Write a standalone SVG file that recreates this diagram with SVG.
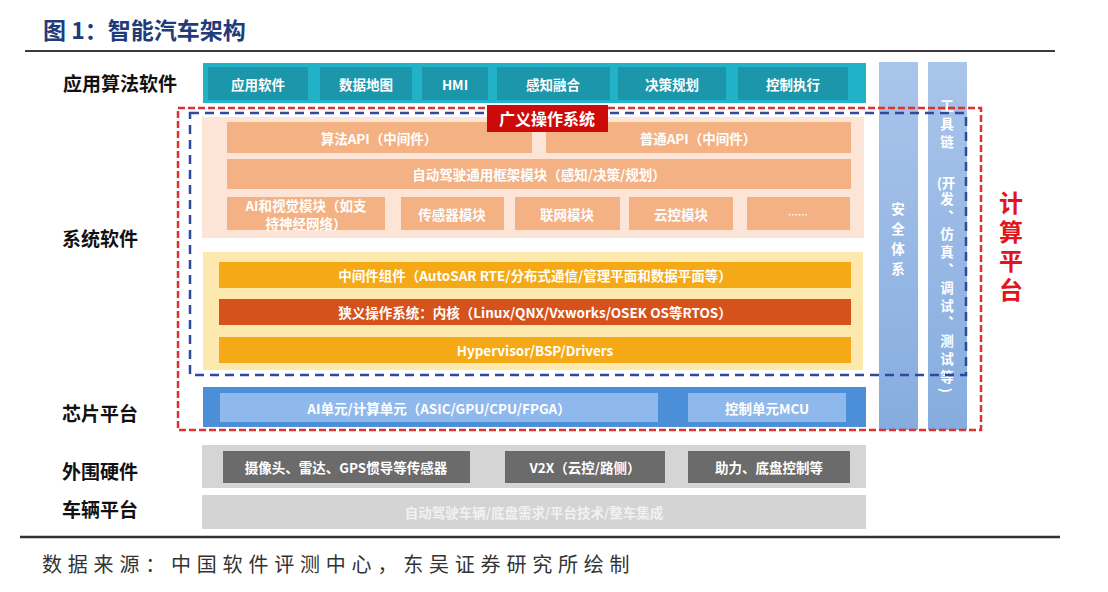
<svg xmlns="http://www.w3.org/2000/svg" width="1108" height="592" viewBox="0 0 1108 592">
<defs>
<style>
text{font-family:"Noto Sans CJK SC","Liberation Sans",sans-serif;dominant-baseline:central;text-anchor:middle}
.lbl{font-size:19px;font-weight:700;fill:#111}
.w{font-size:13.5px;font-weight:700;fill:#fff}
.app{fill:#1c96aa}
.pch{fill:#f4b184}
.yel{fill:#f5a916}
.chipin{fill:#8fb8ec}
.gin{fill:#6b6b6b}
.vt{font-size:13.5px;font-weight:700;fill:#fff}
.vert{writing-mode:vertical-rl;text-anchor:start}
.red{font-size:24px;font-weight:700;fill:#e3141a;letter-spacing:5px}
</style>
<linearGradient id="colg" x1="0" y1="0" x2="0" y2="1">
<stop offset="0" stop-color="#a9c5ea"/>
<stop offset="1" stop-color="#86acdf"/>
</linearGradient>
</defs>
<rect width="1108" height="592" fill="#fff"/>

<g id="title">
<text x="43" y="29" style="text-anchor:start;font-size:23px;font-weight:700;fill:#1f3c7a">图 1：智能汽车架构</text>
<line x1="25" y1="51" x2="1055" y2="51" stroke="#3a3a3a" stroke-width="2"/>
</g>

<g id="row-labels">
<text class="lbl" x="120" y="82">应用算法软件</text>
<text class="lbl" x="100" y="237">系统软件</text>
<text class="lbl" x="100" y="412">芯片平台</text>
<text class="lbl" x="100" y="470">外围硬件</text>
<text class="lbl" x="100" y="508">车辆平台</text>
</g>

<g id="side-columns">
<rect x="879" y="62" width="39" height="368" fill="url(#colg)"/>
<rect x="928" y="62" width="39" height="368" fill="url(#colg)"/>
<g id="safety">
<text class="vt vert" x="898" y="202" style="letter-spacing:6.5px">安全体系</text>
</g>
<g id="toolchain">
<text class="vt vert" x="947" y="99" style="letter-spacing:4.5px">工具链</text>
<text class="vt" x="946" y="182">(开</text>
<text class="vt vert" x="947" y="192" style="letter-spacing:4.3px">发、仿真、调试、测试等)</text>
</g>
</g>

<g id="app-layer">
<rect x="203" y="63" width="663" height="40" fill="#22b2c8"/>
<rect class="app" x="208" y="67" width="100" height="33"/><text class="w" x="258" y="84">应用软件</text>
<rect class="app" x="320" y="67" width="92" height="33"/><text class="w" x="366" y="84">数据地图</text>
<rect class="app" x="422" y="67" width="66" height="33"/><text class="w" x="455" y="84">HMI</text>
<rect class="app" x="497" y="67" width="113" height="33"/><text class="w" x="553" y="84">感知融合</text>
<rect class="app" x="618" y="67" width="108" height="33"/><text class="w" x="672" y="84">决策规划</text>
<rect class="app" x="738" y="67" width="110" height="33"/><text class="w" x="793" y="84">控制执行</text>
</g>

<g id="broad-os-upper">
<rect x="202" y="117" width="662" height="121" fill="#fce4d6"/>
<rect class="pch" x="227" y="122" width="305" height="31"/><text class="w" x="379" y="138">算法API（中间件）</text>
<rect class="pch" x="546" y="122" width="305" height="31"/><text class="w" x="698" y="138">普通API（中间件）</text>
<rect class="pch" x="227" y="159" width="624" height="30"/><text class="w" x="539" y="174">自动驾驶通用框架模块（感知/决策/规划）</text>
<rect class="pch" x="227" y="197" width="158" height="33"/>
<text class="w" x="306" y="205">AI和视觉模块（如支</text>
<text class="w" x="306" y="223">持神经网络）</text>
<rect class="pch" x="401" y="197" width="103" height="33"/><text class="w" x="452" y="214">传感器模块</text>
<rect class="pch" x="515" y="197" width="105" height="33"/><text class="w" x="567" y="214">联网模块</text>
<rect class="pch" x="629" y="197" width="104" height="33"/><text class="w" x="681" y="214">云控模块</text>
<rect class="pch" x="747" y="197" width="103" height="33"/><text class="w" x="798" y="214" style="font-size:10px">……</text>
</g>

<g id="narrow-os">
<rect x="203" y="252" width="660" height="118" fill="#fde9ad"/>
<rect class="yel" x="219" y="262" width="632" height="26"/><text class="w" x="535" y="275">中间件组件（AutoSAR RTE/分布式通信/管理平面和数据平面等）</text>
<rect x="219" y="299" width="632" height="26" fill="#d6521d"/><text class="w" x="535" y="312">狭义操作系统：内核（Linux/QNX/Vxworks/OSEK OS等RTOS）</text>
<rect class="yel" x="219" y="337" width="632" height="26"/><text class="w" x="535" y="350">Hypervisor/BSP/Drivers</text>
</g>

<g id="chip-layer">
<rect x="203" y="387" width="663" height="40" fill="#4a8fd8"/>
<rect class="chipin" x="220" y="393" width="438" height="29"/><text class="w" x="439" y="408">AI单元/计算单元（ASIC/GPU/CPU/FPGA）</text>
<rect class="chipin" x="688" y="393" width="158" height="29"/><text class="w" x="767" y="408">控制单元MCU</text>
</g>

<g id="peripheral-layer">
<rect x="202" y="445" width="664" height="43" fill="#d5d5d5"/>
<rect class="gin" x="223" y="451" width="247" height="32"/><text class="w" x="346" y="467">摄像头、雷达、GPS惯导等传感器</text>
<rect class="gin" x="505" y="451" width="160" height="32"/><text class="w" x="585" y="467">V2X（云控/路侧）</text>
<rect class="gin" x="688" y="451" width="162" height="32"/><text class="w" x="769" y="467">助力、底盘控制等</text>
</g>

<g id="vehicle-layer">
<rect x="202" y="495" width="664" height="34" fill="#d4d4d4"/>
<text class="w" x="534" y="512" style="fill:#f1f1f1">自动驾驶车辆/底盘需求/平台技术/整车集成</text>
</g>

<g id="connectors">
<rect x="178" y="108" width="803" height="322" fill="none" stroke="#e0302f" stroke-width="2.5" stroke-dasharray="7 3"/>
<rect x="190" y="113" width="776" height="262" fill="none" stroke="#2d4a9c" stroke-width="2.5" stroke-dasharray="9 6"/>
</g>

<g id="broad-os-label">
<rect x="487" y="105" width="121" height="27" fill="#cc0a0a"/>
<text x="547" y="118" style="font-size:16px;font-weight:700;fill:#fff">广义操作系统</text>
</g>

<g id="compute-platform">
<text class="red vert" x="1011" y="191">计算平台</text>
</g>

<g id="footer">
<line x1="20" y1="537" x2="1060" y2="537" stroke="#333" stroke-width="2.5"/>
<text x="42" y="563" style="text-anchor:start;font-size:20px;fill:#333;letter-spacing:5.8px">数据来源：中国软件评测中心，东吴证券研究所绘制</text>
</g>
</svg>
